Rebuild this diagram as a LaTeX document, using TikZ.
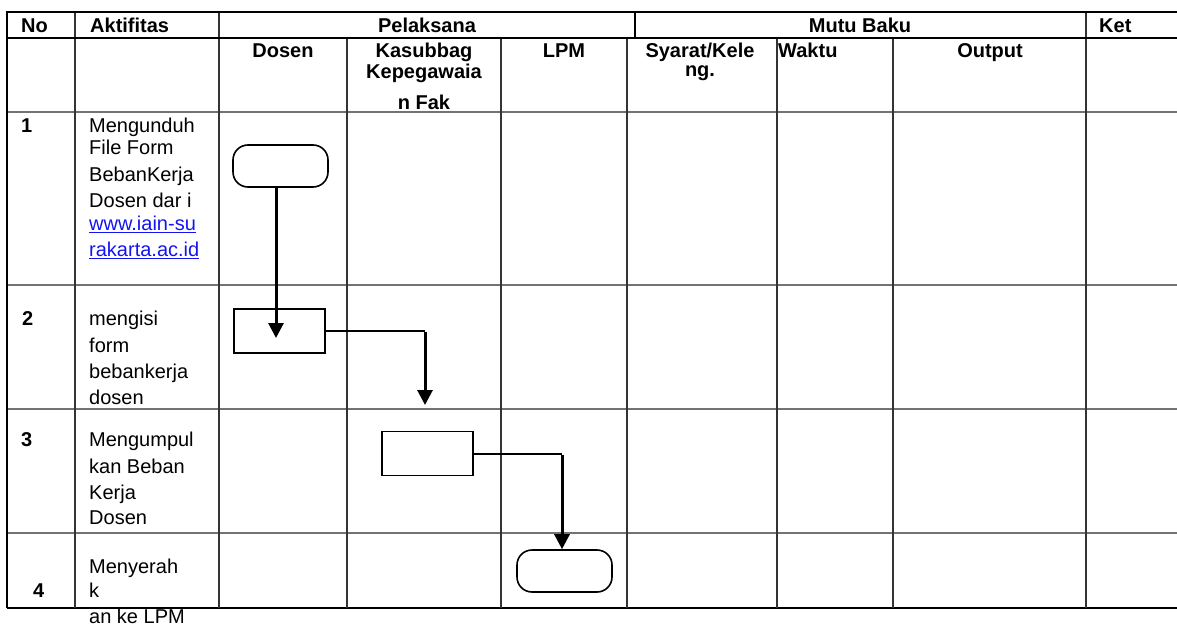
\documentclass[tikz,border=0pt]{standalone}
\usepackage{fontspec}
\setmainfont{Liberation Sans}
\usetikzlibrary{arrows.meta}
\definecolor{linkblue}{RGB}{20,20,240}
\begin{document}
\begin{tikzpicture}[x=1pt,y=-1pt,
  grid/.style={line width=1.2pt,draw=black!80},
  rowline/.style={line width=1.3pt,draw=black!55},
  heavy/.style={line width=2.8pt,draw=black},
  hd/.style={font=\bfseries\fontsize{20}{24}\selectfont,inner sep=0pt},
  bd/.style={font=\fontsize{20}{24}\selectfont,inner sep=0pt,anchor=base west},
  term/.style={draw,line width=1.6pt,rounded corners=15pt,minimum width=95pt,minimum height=42pt,inner sep=0pt},
  proc/.style={draw,line width=1.6pt,minimum width=91pt,minimum height=44pt,inner sep=0pt},
  flow/.style={line width=3pt,-{Triangle[width=15pt,length=15pt]}},
  link/.style={line width=2pt}]
\useasboundingbox (0,0) rectangle (1177,628);
% ---------- table grid ----------
\foreach \y in {112,285,409,533} \draw[rowline] (7,\y) -- (1177,\y);
\draw[line width=1.5pt] (7,608) -- (1177,608);
\draw[line width=2pt] (7,12) -- (7,608);
\foreach \x in {75,219,1086} \draw[grid] (\x,12) -- (\x,608);
\foreach \x in {347,501,627,777,893} \draw[grid] (\x,38) -- (\x,608);
\draw[heavy] (635,12) -- (635,38);
\draw[heavy] (5.6,12) -- (1177,12);
\draw[heavy] (5.6,38) -- (1177,38);
% ---------- header ----------
\node[hd,anchor=base west] (hNo) at (21,33) {No};
\node[hd,anchor=base west] (hAkt) at (90,33) {Aktifitas};
\node[hd,anchor=base] (hPel) at (427,33) {Pelaksana};
\node[hd,anchor=base] (hMutu) at (860,33) {Mutu Baku};
\node[hd,anchor=base west] (hKet) at (1099,33) {Ket};
\node[hd,anchor=base] (hDos) at (283,58) {Dosen};
\node[hd,anchor=base] (hKas1) at (424,58) {Kasubbag};
\node[hd,anchor=base] (hKas2) at (424,79) {Kepegawaia};
\node[hd,anchor=base] (hKas3) at (424,110) {n Fak};
\node[hd,anchor=base] (hLPM) at (564,58) {LPM};
\node[hd,anchor=base] (hSy1) at (700,58) {Syarat/Kele};
\node[hd,anchor=base] (hSy2) at (700,77) {ng.};
\node[hd,anchor=base west] (hWak) at (778,58) {Waktu};
\node[hd,anchor=base] (hOut) at (990,58) {Output};
% ---------- row numbers ----------
\node[hd,anchor=base west] (n1) at (21,133) {1};
\node[hd,anchor=base west] (n2) at (22,325) {2};
\node[hd,anchor=base west] (n3) at (21,446) {3};
\node[hd,anchor=base west] (n4) at (33,597) {4};
% ---------- activities ----------
\node[bd] (a1a) at (89,133) {Mengunduh};
\node[bd] (a1b) at (89,155) {File Form};
\node[bd] (a1c) at (89,182) {BebanKerja};
\node[bd] (a1d) at (89,208) {Dosen dar i};
\node[bd] (a1e) at (89,231) {\color{linkblue}\underline{www.iain-su}};
\node[bd] (a1f) at (89,257) {\color{linkblue}\underline{rakarta.ac.id}};
\node[bd] (a2a) at (89,325) {mengisi};
\node[bd] (a2b) at (89,352) {form};
\node[bd] (a2c) at (89,378) {bebankerja};
\node[bd] (a2d) at (89,404) {dosen};
\node[bd] (a3a) at (89,446) {Mengumpul};
\node[bd] (a3b) at (89,473) {kan Beban};
\node[bd] (a3c) at (89,499) {Kerja};
\node[bd] (a3d) at (89,524) {Dosen};
\node[bd] (a4a) at (89,573) {Menyerah};
\node[bd] (a4b) at (89,597) {k};
\node[bd] (a4c) at (89,623) {an ke LPM};
% ---------- flow shapes ----------
\node[term] (b1) at (280.5,166) {};
\node[proc] (b2) at (279.5,331) {};
\node[proc] (b3) at (427.5,453.5) {};
\node[term] (b4) at (564.5,571) {};
\coordinate (t1) at (276,338);
\coordinate (k2) at (425,331);
\coordinate (t2) at (425,405);
\coordinate (k3) at (562,453.5);
\draw[flow] (b1.south -| t1) -- (t1);
\draw[link] (b2.east) -- (k2);
\draw[flow] ([yshift=-1pt]k2) -- (t2);
\draw[link] (b3.east) -- (k3);
\draw[flow] ([yshift=-1pt]k3) -- (b4.north -| k3);
\end{tikzpicture}
\end{document}
